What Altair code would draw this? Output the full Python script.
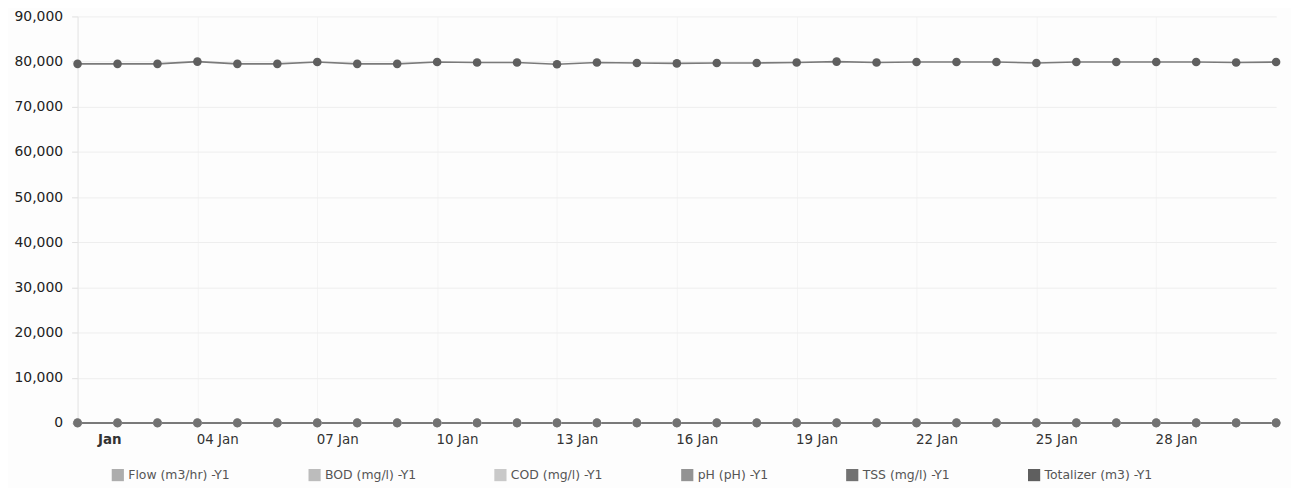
import altair as alt
import pandas as pd

# ---- data ----
dates = [f"2024-01-{d:02d}" for d in range(1, 32)]
series_names = ["Flow (m3/hr) -Y1", "BOD (mg/l) -Y1", "COD (mg/l) -Y1",
                "pH (pH) -Y1", "TSS (mg/l) -Y1", "Totalizer (m3) -Y1"]
series_colors = ["#adadad", "#bcbcbc", "#c9c9c9", "#939393", "#727272", "#5f5f5f"]

flow = [3.1, 3.2, 3.0, 3.3, 3.1, 3.2, 3.0, 3.1, 3.2, 3.3, 3.1, 3.0, 3.2, 3.1, 3.3,
        3.2, 3.1, 3.0, 3.2, 3.1, 3.3, 3.2, 3.1, 3.0, 3.2, 3.1, 3.3, 3.2, 3.1, 3.0, 3.2]
bod = [8, 9, 8, 7, 9, 8, 8, 9, 7, 8, 9, 8, 8, 7, 9, 8, 9, 8, 7, 8,
       9, 8, 8, 9, 7, 8, 9, 8, 8, 7, 9]
cod = [32, 30, 34, 31, 33, 30, 32, 35, 31, 30, 33, 32, 34, 31, 30, 32, 33, 31, 30, 34,
       32, 31, 33, 30, 32, 34, 31, 30, 33, 32, 31]
ph = [7.2, 7.1, 7.3, 7.2, 7.0, 7.1, 7.2, 7.3, 7.1, 7.2, 7.0, 7.2, 7.1, 7.3, 7.2, 7.1,
      7.2, 7.0, 7.1, 7.2, 7.3, 7.1, 7.2, 7.1, 7.0, 7.2, 7.3, 7.1, 7.2, 7.1, 7.2]
tss = [12, 13, 11, 12, 14, 12, 11, 13, 12, 12, 14, 11, 12, 13, 12, 11, 12, 14, 13, 12,
       11, 12, 13, 12, 14, 12, 11, 13, 12, 12, 13]
totalizer = [79500, 79500, 79500, 80000, 79500, 79500, 79900, 79500, 79500, 79900,
             79800, 79800, 79400, 79800, 79700, 79600, 79700, 79700, 79800, 80000,
             79800, 79900, 79900, 79900, 79700, 79900, 79900, 79900, 79900, 79800, 79900]

tick_days = [1, 4, 7, 10, 13, 16, 19, 22, 25, 28]
y_ticks = [0, 10000, 20000, 30000, 40000, 50000, 60000, 70000, 80000, 90000]

rows = []
for name, vals in zip(series_names, [flow, bod, cod, ph, tss, totalizer]):
    for d, v in zip(dates, vals):
        rows.append({"date": d, "series": name, "value": v})
df = pd.DataFrame(rows)

FONT = "DejaVu Sans"

x_enc = alt.X(
    "date:T",
    title=None,
    scale=alt.Scale(
        type="utc",
        domain=[alt.DateTime(year=2024, month=1, date=1, utc=True),
                alt.DateTime(year=2024, month=1, date=31, utc=True)],
    ),
    axis=alt.Axis(
        values=[alt.DateTime(year=2024, month=1, date=d, utc=True) for d in tick_days],
        labelExpr="utcFormat(datum.value, '%d') == '01' ? 'Jan' : utcFormat(datum.value, '%d %b')",
        labelFontWeight={"condition": {"test": "utcFormat(datum.value, '%d') == '01'", "value": "bold"},
                         "value": "normal"},
        labelOffset=20,
        labelPadding=10,
        ticks=False,
        domain=False,
        grid=True,
        gridColor="#f4f4f4",
        labelFontSize=13.5,
        labelColor="#333333",
        labelFont=FONT,
    ),
)

y_enc = alt.Y(
    "value:Q",
    title=None,
    scale=alt.Scale(domain=[0, 90000], nice=False),
    axis=alt.Axis(
        values=y_ticks,
        format=",d",
        labelFontSize=14,
        labelColor="#222222",
        labelFont=FONT,
        labelPadding=9,
        tickSize=6,
        tickColor="#e0e0e0",
        domain=True,
        domainColor="#e6e6e6",
        grid=True,
        gridColor="#eeeeee",
    ),
)

base = alt.Chart(df)

lines = base.mark_line(color="#7a7a7a", strokeWidth=1.6).encode(
    x=x_enc, y=y_enc, detail="series:N"
)

points = base.mark_circle(size=75, opacity=1).encode(
    x=x_enc,
    y=y_enc,
    color=alt.Color(
        "series:N",
        scale=alt.Scale(domain=series_names, range=series_colors),
        legend=alt.Legend(
            title=None,
            orient="none",
            legendX=34,
            legendY=455,
            direction="horizontal",
            columns=6,
            symbolType="square",
            symbolSize=150,
            symbolStrokeWidth=0,
            symbolOpacity=1,
            labelFontSize=12.5,
            labelFont=FONT,
            labelColor="#555555",
            columnPadding=78,
            padding=0,
        ),
    ),
)

chart = alt.layer(lines, points).properties(
    width=1206,
    height=409,
    autosize=alt.AutoSizeParams(type="none"),
    padding={"left": 70, "top": 7, "right": 15, "bottom": 64},
    background="#fdfdfd",
).configure_view(stroke=None)

chart.save("out.html", embed_options={"renderer": "svg", "actions": False})
